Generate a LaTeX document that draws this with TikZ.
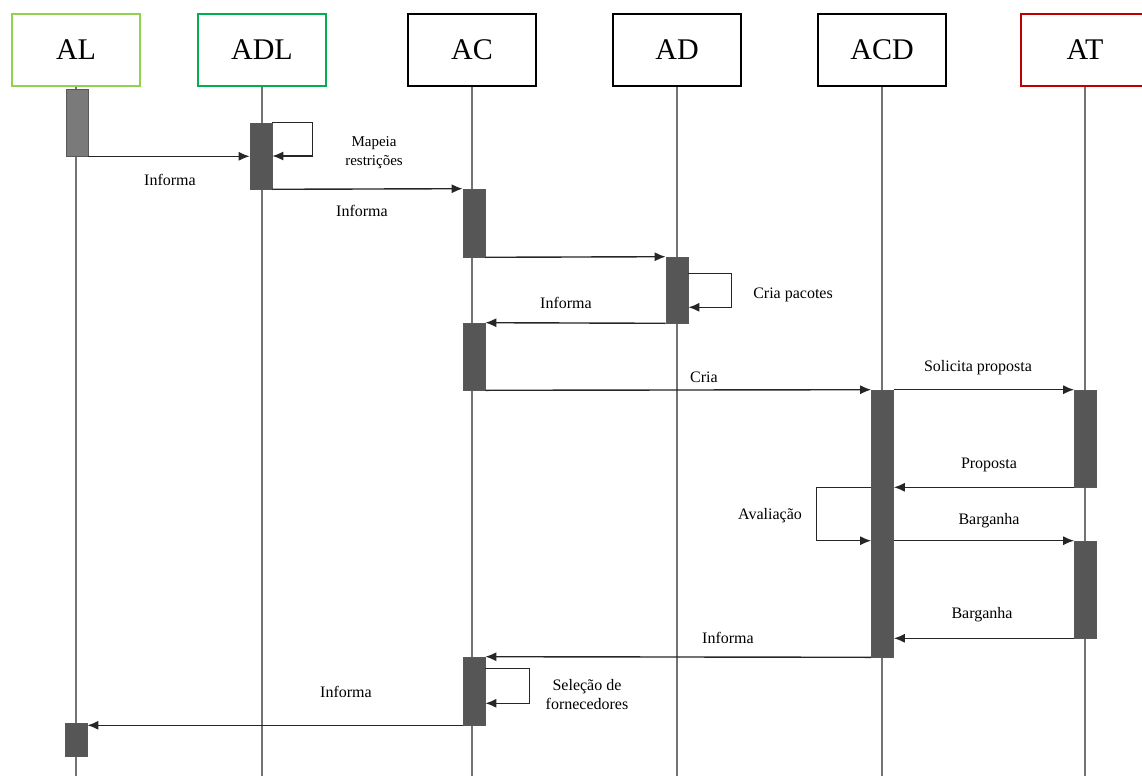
\documentclass[tikz,border=0pt]{standalone}
\usepackage{fontspec}
\setmainfont{Liberation Serif}
\usetikzlibrary{arrows.meta, calc}
\definecolor{algreen}{HTML}{92D050}
\definecolor{adlgreen}{HTML}{00B050}
\definecolor{atred}{HTML}{C00000}
\definecolor{bargray}{HTML}{565656}

\begin{document}
\begin{tikzpicture}[
  x=1pt, y=-1pt,
  actor/.style={rectangle, draw, line width=2.8pt, fill=white,
                minimum width=128pt, minimum height=72pt,
                font=\fontsize{30}{36}\selectfont},
  life/.style={line width=1.4pt, black!55},
  bar/.style={rectangle, fill=bargray, draw=black!65, line width=0.6pt,
              minimum width=22pt, inner sep=0pt},
  msg/.style={-{Latex[length=11pt, width=9pt]}, line width=1.4pt, black!85},
  lbl/.style={font=\fontsize{16}{19}\selectfont, align=center, inner sep=1pt}
]
  \useasboundingbox (0,0) rectangle (1142,776);

  % actors
  \node[actor, draw=algreen] (al) at (76,50) {AL};
  \node[actor, draw=adlgreen] (adl) at (262,50) {ADL};
  \node[actor] (ac) at (472,50) {AC};
  \node[actor] (ad) at (677,50) {AD};
  \node[actor] (acd) at (882,50) {ACD};
  \node[actor, draw=atred] (at) at (1085,50) {AT};

  \foreach \a in {al,adl,ac,ad,acd,at}
    \draw[life] (\a.south) -- (\a.south |- 0,776);

  % activations
  \node[bar, fill=black!52, minimum height=67pt] (al1) at (77,122.5) {};
  \node[bar, minimum height=66pt] (adl1) at (261,156) {};
  \node[bar, minimum height=68pt] (ac1) at (474,223) {};
  \node[bar, minimum height=66pt] (ad1) at (677,290) {};
  \node[bar, minimum height=67pt] (ac2) at (474,356.5) {};
  \node[bar, minimum height=267pt] (acd1) at (882.5,523.5) {};
  \node[bar, minimum height=97pt] (at1) at (1085.5,438.5) {};
  \node[bar, minimum height=97pt] (at2) at (1085.5,589.5) {};
  \node[bar, minimum height=68pt] (ac3) at (474,691) {};
  \node[bar, minimum height=33pt] (al2) at (76,739.5) {};

  % messages
  \draw[msg] (al1.south east) -- (al1.south east -| adl1.west);
  \draw[msg] (adl1.north east) -- ++(40,0) |- (adl1.east);
  \draw[msg] (adl1.south east) -- (ac1.north west);
  \draw[msg] (ac1.south east) -- (ad1.north west);
  \draw[msg] ([yshift=-17pt]ad1.north east) -- ++(43,0)
    |- ([yshift=16pt]ad1.south east);
  \draw[msg] (ad1.south west) -- (ac2.north east);
  \draw[msg] (ac2.south east) -- (acd1.north west);
  \draw[msg] (acd1.north east) -- (at1.north west);
  \draw[msg] (at1.south west) -- (at1.south west -| acd1.east);
  \draw[msg] (at1.south west -| acd1.west) -- ++(-55,0)
    |- (at2.north west -| acd1.west);
  \draw[msg] (at2.north west -| acd1.east) -- (at2.north west);
  \draw[msg] (at2.south west) -- (at2.south west -| acd1.east);
  \draw[msg] (acd1.south west) -- (ac3.north east);
  \draw[msg] ([yshift=-12pt]ac3.north east) -- ++(44,0)
    |- ([yshift=22pt]ac3.south east);
  \draw[msg] (ac3.south west) -- (ac3.south west -| al2.east);

  % labels
  \node[lbl] (l1) at (170,180) {Informa};
  \node[lbl, font=\fontsize{15}{19}\selectfont] (l2) at (374,153) {Mapeia\\restrições};
  \node[lbl] (l3) at (362,211) {Informa};
  \node[lbl] (l4) at (793,295) {Cria pacotes};
  \node[lbl] (l5) at (566,303) {Informa};
  \node[lbl] (l6) at (704,377) {Cria};
  \node[lbl] (l7) at (978,368) {Solicita proposta};
  \node[lbl] (l8) at (989,465) {Proposta};
  \node[lbl] (l9) at (770,516) {Avaliação};
  \node[lbl] (l10) at (989,521) {Barganha};
  \node[lbl] (l11) at (982,615) {Barganha};
  \node[lbl] (l12) at (728,638) {Informa};
  \node[lbl] (l13) at (587,695) {Seleção de\\fornecedores};
  \node[lbl] (l14) at (346,692) {Informa};
\end{tikzpicture}
\end{document}
